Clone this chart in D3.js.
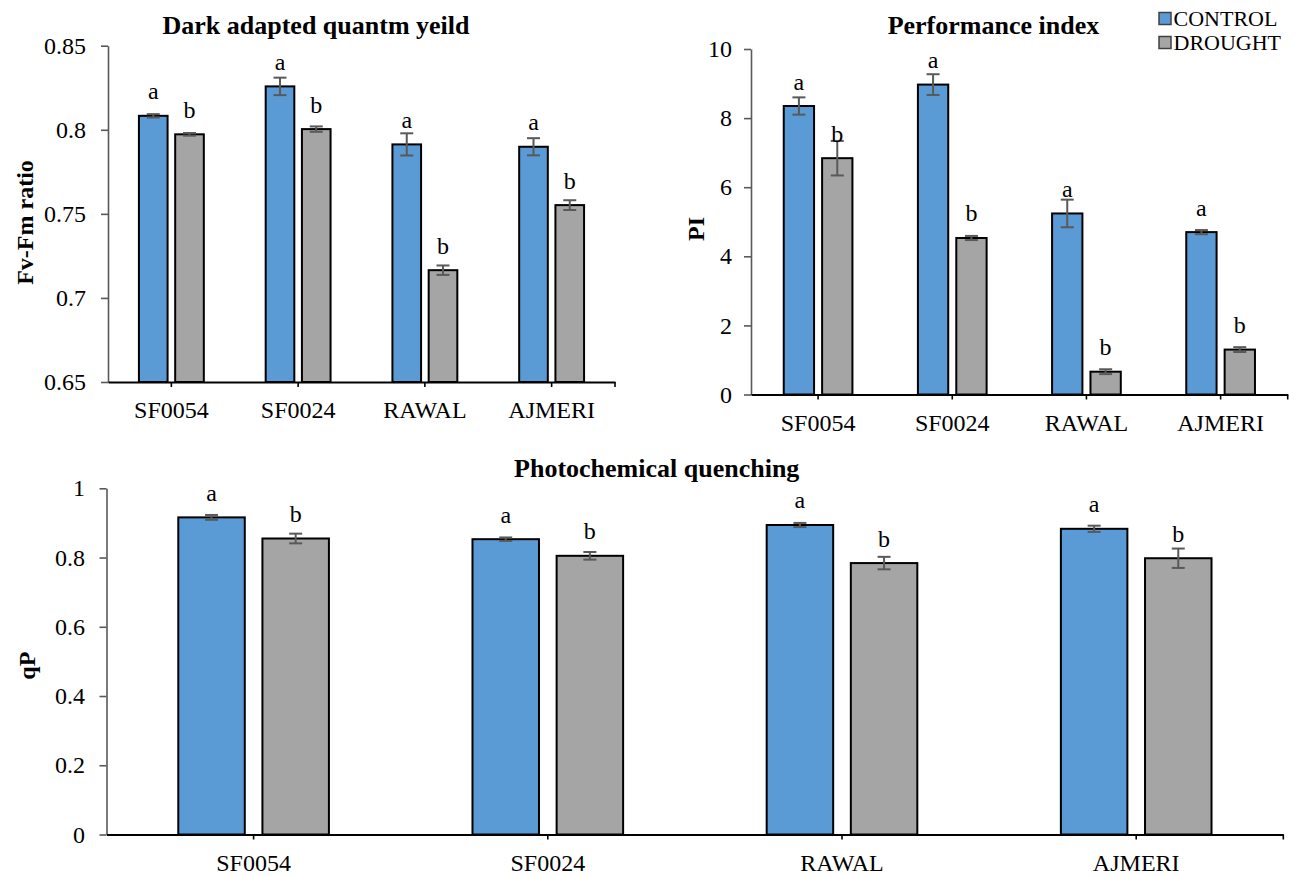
<!DOCTYPE html>
<html><head><meta charset="utf-8">
<script src="https://cdn.jsdelivr.net/npm/d3@7"></script>
<style>
html,body{margin:0;padding:0;background:#fff;}
svg{display:block;}
svg text{font-family:"Liberation Serif","Times New Roman",serif;}
</style></head><body>
<svg id="chart" width="1296" height="876"></svg>
<script>
const categories = ["SF0054", "SF0024", "RAWAL", "AJMERI"];
const series = ["CONTROL", "DROUGHT"];

const fvfmControl = [0.8083, 0.8258, 0.7913, 0.7899];
const fvfmControlErr = [0.0010, 0.0052, 0.0066, 0.0051];
const fvfmDrought = [0.7973, 0.8004, 0.7165, 0.7552];
const fvfmDroughtErr = [0.0008, 0.0016, 0.0028, 0.0029];

const piControl = [8.35, 8.97, 5.24, 4.70];
const piControlErr = [0.25, 0.30, 0.40, 0.06];
const piDrought = [6.84, 4.53, 0.66, 1.30];
const piDroughtErr = [0.50, 0.06, 0.07, 0.07];

const qpControl = [0.916, 0.853, 0.894, 0.883];
const qpControlErr = [0.007, 0.005, 0.006, 0.009];
const qpDrought = [0.855, 0.805, 0.784, 0.798];
const qpDroughtErr = [0.014, 0.011, 0.018, 0.028];

const controlLetters = ["a", "a", "a", "a"];
const droughtLetters = ["b", "b", "b", "b"];

const fvfmTicks = [0.65, 0.7, 0.75, 0.8, 0.85];
const fvfmTickLabels = ["0.65", "0.7", "0.75", "0.8", "0.85"];
const piTicks = [0, 2, 4, 6, 8, 10];
const piTickLabels = ["0", "2", "4", "6", "8", "10"];
const qpTicks = [0, 0.2, 0.4, 0.6, 0.8, 1];
const qpTickLabels = ["0", "0.2", "0.4", "0.6", "0.8", "1"];

const titles = ["Dark adapted quantm yeild", "Performance index", "Photochemical quenching"];
const yTitles = ["Fv-Fm ratio", "PI", "qP"];

const FONT = "Liberation Serif";
const colors = {CONTROL: "#5B9BD5", DROUGHT: "#A5A5A5"};
const svg = d3.select("#chart");

function drawPanel(o) {
  const x = d3.scaleBand().domain(categories).range([o.left, o.right]).padding(0);
  const bw = x.bandwidth();
  const w = bw * 0.226, g = bw * 0.06;
  const inner = d3.scaleBand().domain(series)
    .range([-(w + g / 2), w + g / 2]).paddingInner(g / (w + g)).paddingOuter(0);
  const y = d3.scaleLinear().domain(o.domain).range([o.bottom, o.top]);
  const gp = svg.append("g");

  // y axis
  const ya = gp.append("g").attr("transform", `translate(${o.left},0)`)
    .call(d3.axisLeft(y).tickValues(o.ticks).tickFormat((d, i) => o.tickLabels[i])
      .tickSize(7).tickSizeOuter(0).tickPadding(o.yPad));
  ya.attr("font-family", FONT).attr("font-size", 24);
  ya.select(".domain").attr("stroke", "#595959").attr("stroke-width", 1.6);
  ya.selectAll(".tick line").attr("stroke", "#595959").attr("stroke-width", 1.6);
  ya.selectAll(".tick text").attr("fill", "#000");

  const rows = [];
  categories.forEach((c, i) => {
    rows.push({cat: c, s: series[0], v: o.control[i], e: o.controlErr[i], l: o.controlLetters[i]});
    rows.push({cat: c, s: series[1], v: o.drought[i], e: o.droughtErr[i], l: o.droughtLetters[i]});
  });
  const cx = d => x(d.cat) + bw / 2 + inner(d.s);

  gp.append("g").selectAll("rect").data(rows).join("rect")
    .attr("x", d => cx(d))
    .attr("y", d => y(d.v))
    .attr("width", inner.bandwidth())
    .attr("height", d => y(o.domain[0]) - y(d.v))
    .attr("fill", d => colors[d.s])
    .attr("stroke", "#000").attr("stroke-width", 2);

  const eb = gp.append("g").attr("stroke", "#595959").attr("stroke-width", 2);
  rows.forEach(d => {
    const mx = cx(d) + inner.bandwidth() / 2;
    eb.append("line").attr("x1", mx).attr("x2", mx).attr("y1", y(d.v - d.e)).attr("y2", y(d.v + d.e));
    eb.append("line").attr("x1", mx - 6.5).attr("x2", mx + 6.5).attr("y1", y(d.v - d.e)).attr("y2", y(d.v - d.e));
    eb.append("line").attr("x1", mx - 6.5).attr("x2", mx + 6.5).attr("y1", y(d.v + d.e)).attr("y2", y(d.v + d.e));
  });

  gp.append("g").selectAll("text").data(rows).join("text")
    .attr("x", d => cx(d) + inner.bandwidth() / 2)
    .attr("y", d => y(d.v) - 16.5)
    .attr("text-anchor", "middle")
    .attr("font-family", FONT).attr("font-size", 24)
    .text(d => d.l);

  // x axis
  const xa = gp.append("g").attr("transform", `translate(0,${o.bottom})`)
    .call(d3.axisBottom(x).tickSize(5).tickSizeOuter(0).tickPadding(14));
  xa.attr("font-family", FONT).attr("font-size", 24);
  xa.select(".domain").attr("stroke", "#000").attr("stroke-width", 2);
  xa.selectAll(".tick line").attr("stroke", "#000").attr("stroke-width", 1.6);
  xa.selectAll(".tick text").attr("fill", "#000");
  xa.append("line").attr("x1", o.right).attr("x2", o.right).attr("y1", 0).attr("y2", 5)
    .attr("stroke", "#000").attr("stroke-width", 1.6);

  // titles
  gp.append("text").attr("x", o.titleX).attr("y", o.titleY)
    .attr("text-anchor", "middle").attr("font-family", FONT).attr("font-size", 26)
    .attr("font-weight", "bold").text(o.title);
  gp.append("text")
    .attr("transform", `translate(${o.yTitleX},${o.yTitleY}) rotate(-90)`)
    .attr("text-anchor", "middle").attr("font-family", FONT).attr("font-size", 24)
    .attr("font-weight", "bold").text(o.yTitle);
}

drawPanel({
  left: 108, right: 615, top: 45.7, bottom: 382, domain: [0.65, 0.85],
  ticks: fvfmTicks, tickLabels: fvfmTickLabels, yPad: 15,
  control: fvfmControl, controlErr: fvfmControlErr, drought: fvfmDrought, droughtErr: fvfmDroughtErr,
  controlLetters, droughtLetters,
  title: titles[0], titleX: 316, titleY: 34.3, yTitle: yTitles[0], yTitleX: 33, yTitleY: 222.5
});
drawPanel({
  left: 751, right: 1287.7, top: 49, bottom: 394.5, domain: [0, 10],
  ticks: piTicks, tickLabels: piTickLabels, yPad: 12,
  control: piControl, controlErr: piControlErr, drought: piDrought, droughtErr: piDroughtErr,
  controlLetters, droughtLetters,
  title: titles[1], titleX: 993.4, titleY: 34.3, yTitle: yTitles[1], yTitleX: 703.6, yTitleY: 229
});
drawPanel({
  left: 106.5, right: 1283.3, top: 488.3, bottom: 834.5, domain: [0, 1],
  ticks: qpTicks, tickLabels: qpTickLabels, yPad: 14.5,
  control: qpControl, controlErr: qpControlErr, drought: qpDrought, droughtErr: qpDroughtErr,
  controlLetters, droughtLetters,
  title: titles[2], titleX: 656.7, titleY: 476.7, yTitle: yTitles[2], yTitleX: 35, yTitleY: 665.7
});

// legend
const lg = svg.append("g");
series.forEach((s, i) => {
  lg.append("rect").attr("x", 1159).attr("y", 12.5 + i * 24).attr("width", 12).attr("height", 12)
    .attr("fill", colors[s]).attr("stroke", "#404040").attr("stroke-width", 1.5);
  lg.append("text").attr("x", 1173.5).attr("y", 25.5 + i * 24)
    .attr("font-family", FONT).attr("font-size", 22).text(s);
});
</script>
</body></html>
